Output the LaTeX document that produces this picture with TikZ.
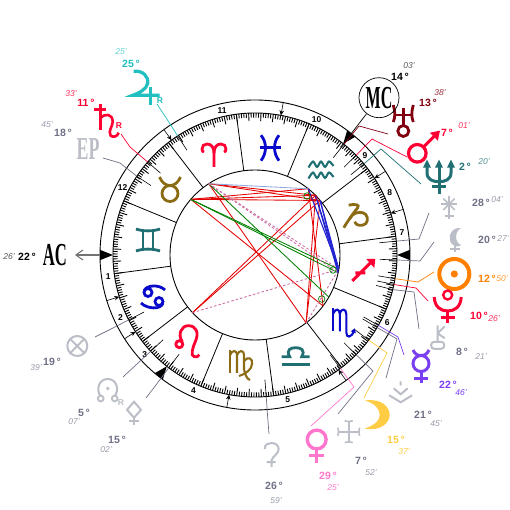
\documentclass[tikz,border=0pt]{standalone}
\usepackage{fontspec}
\setmainfont{Liberation Sans}
\newfontfamily\chartserif{Liberation Serif}
\usetikzlibrary{arrows.meta}
\definecolor{chartred}{HTML}{FF0033}
\definecolor{chartteal}{HTML}{1F6F73}
\definecolor{chartbrown}{HTML}{8B6B14}
\definecolor{chartblue}{HTML}{0A0ACC}
\definecolor{chartcyan}{HTML}{22BFC0}
\definecolor{chartdark}{HTML}{800010}
\definecolor{chartorange}{HTML}{FF8000}
\definecolor{chartviolet}{HTML}{7B3FF2}
\definecolor{chartyellow}{HTML}{FFCC44}
\definecolor{chartpink}{HTML}{FF77CC}
\definecolor{chartgray}{HTML}{BBBEC6}
\definecolor{chartslate}{HTML}{6E7085}
\definecolor{chartmin}{HTML}{9A9CAA}
\tikzset{
  gl/.style={line width=2.8pt},
  glthin/.style={line width=2.1pt},
  ring/.style={draw=black, line width=0.9pt},
  cusp/.style={draw=black, line width=0.8pt},
  dtick/.style={draw=black, line width=0.9pt},
  postick/.style={draw=black, line width=0.6pt},
  housearr/.style={-{Stealth[length=5pt,width=4.5pt]}, draw=black, line width=0.6pt},
  leader/.style={line width=0.7pt},
  asp/.style={line width=0.85pt},
  asptrine/.style={asp, draw=chartblue!90, line width=1.1pt},
  aspsquare/.style={asp, draw=red!90!black},
  aspquin/.style={asp, draw=green!50!black},
  aspsemi/.style={asp, draw=magenta!55!gray!90, dashed, dash pattern=on 2.5pt off 2pt},
  aspfive/.style={asp, draw=cyan!45!blue!45},
  aspmark/.style={circle, draw=green!50!black, line width=0.7pt, minimum size=6.5pt, inner sep=0pt},
  dgr/.style={font=\fontsize{10.5}{11}\selectfont\bfseries, inner sep=0pt},
  mnt/.style={font=\fontsize{8.5}{10}\selectfont\itshape, inner sep=0pt},
  hnum/.style={font=\fontsize{8.5}{10}\selectfont\bfseries, inner sep=0pt},
  rmark/.style={font=\fontsize{8.5}{10}\selectfont\bfseries, inner sep=0pt},
  bigtxt/.style={font=\chartserif\bfseries\fontsize{32}{32}\selectfont, inner sep=0pt},
  % signs
  ariesgl/.pic={\draw[gl] (0,-12) -- (0,2) .. controls (0,8) and (-3,11) .. (-7,11) .. controls (-10,11) and (-12,9) .. (-12,6) .. controls (-12,4) and (-11,3) .. (-10,3);
    \draw[gl] (0,2) .. controls (0,8) and (3,11) .. (7,11) .. controls (10,11) and (12,9) .. (12,6) .. controls (12,4) and (11,3) .. (10,3);},
  taurusgl/.pic={\draw[gl] (0,-3.5) circle (8);
    \draw[gl] (-10.5,13) .. controls (-8,7) and (-4,4.5) .. (0,4.5) .. controls (4,4.5) and (8,7) .. (10.5,13);},
  geminigl/.pic={\draw[gl] (-12,11) .. controls (-5,8.5) and (5,8.5) .. (12,11);
    \draw[gl] (-12,-11) .. controls (-5,-8.5) and (5,-8.5) .. (12,-11);
    \draw[gl] (-5,9) -- (-5,-9) (5,9) -- (5,-9);},
  cancergl/.pic={\draw[gl] (-5,4.5) circle (4) (6,-4.5) circle (4);
    \draw[gl] (-9,6) .. controls (-7,12) and (6,13) .. (12,7);
    \draw[gl] (10,-6) .. controls (8,-13) and (-6,-12) .. (-12,-6);},
  leogl/.pic={\draw[gl] (-8,-2.5) circle (3.5);
    \draw[gl] (-5,0) .. controls (-10,7) and (-6,16) .. (1,16) .. controls (9,16) and (12,9) .. (8,0) .. controls (5,-7) and (3,-14) .. (7,-15) .. controls (9,-16) and (11,-15) .. (12,-13);},
  virgogl/.pic={\draw[glthin] (-10,15) -- (-10,-8);
    \draw[glthin] (-10,10) .. controls (-8,15) and (-3,16) .. (-3,9) -- (-3,-8);
    \draw[glthin] (-3,10) .. controls (-1,15) and (4,16) .. (4,9) -- (4,-4) .. controls (5,-10) and (7,-14) .. (10,-15);
    \draw[glthin] (4,4) .. controls (8,9) and (13,7) .. (12,1) .. controls (12,-4) and (6,-9) .. (-1,-11);},
  libragl/.pic={\draw[gl] (-14,-7.5) -- (14,-7.5);
    \draw[gl] (-14,0) -- (-6,0) .. controls (-10,7) and (-5,9) .. (0,9) .. controls (5,9) and (10,7) .. (6,0) -- (14,0);},
  scorpiogl/.pic={\draw[glthin] (-9,15) -- (-9,-8);
    \draw[glthin] (-9,10) .. controls (-7,15) and (-2.5,15) .. (-2.5,9) -- (-2.5,-8);
    \draw[glthin] (-2.5,10) .. controls (-1,15) and (4,15) .. (4,9) -- (4,-9) .. controls (4,-15) and (9,-15) .. (12,-7);
    \fill (12.5,-5) -- (8.5,-8) -- (13.5,-10) -- cycle;},
  saggl/.pic={\draw[line width=3pt] (-11,-11) -- (9,9) (-8,-3) -- (2,-3);
    \fill (12,11) -- (3,11) -- (11,2) -- cycle;},
  capricorngl/.pic={\draw[gl] (-7,10.5) .. controls (0,12) and (4,11) .. (2,8) .. controls (-2,3) and (-7,-4) .. (-12,-12);
    \draw[gl] (-6,-3) .. controls (-3,3) and (3,4) .. (7,3) .. controls (12,2) and (13,-5) .. (10,-8) .. controls (6,-11) and (0,-10) .. (-1,-6);},
  aquagl/.pic={\foreach \yy in {5.5,-5.5} \draw[glthin] plot[smooth] coordinates {(-12.5,\yy-3) (-8,\yy+3) (-4,\yy-2.5) (0,\yy+3) (4,\yy-2.5) (8,\yy+3) (12.5,\yy-1.5)};},
  piscesgl/.pic={\draw[gl] (-9,12.5) .. controls (-3,5) and (-3,-5) .. (-9,-13);
    \draw[gl] (9,12.5) .. controls (3,5) and (3,-5) .. (9,-13);
    \draw[gl] (-10.5,0) -- (10.5,0);},
  % planets
  jupitergl/.pic={\draw[line width=3.2pt] (-12,16) .. controls (-3,17) and (3,11) .. (2,4) .. controls (1,-2) and (-7,-6) .. (-13,-8) -- (14,-8);
    \draw[line width=3.2pt] (5,0) -- (5,-18);},
  saturngl/.pic={\draw[line width=3pt] (-13,11.5) -- (-1,11.5) (-6.5,16.5) -- (-6.5,-9);
    \draw[line width=2.6pt] (-6.5,2) .. controls (-2,8) and (6,7) .. (6,-1) .. controls (6,-6) and (1,-10) .. (4,-15) .. controls (6,-17) and (11,-16) .. (12,-12);},
  uranusgl/.pic={\draw[line width=2.8pt] (-10,15) .. controls (-8,8) and (-8,3) .. (-10,-2) (10,15) .. controls (8,8) and (8,3) .. (10,-2);
    \draw[line width=2.8pt] (-9,5) -- (9,5) (0,12) -- (0,-5);
    \draw[line width=2.8pt] (0,-11) circle (5.5);},
  marsgl/.pic={\draw[line width=3.2pt] (0,0) circle (8.8);
    \draw[line width=3pt] (6.5,6.5) -- (18,18);
    \fill (22.7,22.7) -- (12.5,20.5) -- (20.5,12.5) -- cycle;},
  neptunegl/.pic={\draw[line width=3pt] (0,12) -- (0,-17) (-7,-10) -- (7,-10);
    \draw[line width=3pt] (-12,12) -- (-12,4) .. controls (-12,-3) and (-6,-5) .. (0,-5) .. controls (6,-5) and (12,-3) .. (12,4) -- (12,12);
    \foreach \xx in {-12,0,12} \fill (\xx,17) -- (\xx-4,9) -- (\xx+4,9) -- cycle;},
  vestagl/.pic={\foreach \aa in {0,45,...,315} \draw[line width=1.6pt] (0,3.5) -- +(\aa:8);
    \draw[line width=1.8pt] (0,-4) -- (0,-11.5) (-4.5,-8) -- (4.5,-8);},
  lilithgl/.pic={\fill (6,12) .. controls (-5,13) and (-8,1) .. (-3,-4) .. controls (0,-7) and (4,-7) .. (6,-5) .. controls (0,-3) and (-1,8) .. (6,12) -- cycle;
    \draw[line width=1.8pt] (0,-5) -- (0,-12) (-5,-9) -- (5,-9);},
  sungl/.pic={\draw[line width=4pt] (0,0) circle (15);
    \fill (0,0) circle (3.6);},
  plutogl/.pic={\draw[line width=2.4pt] (0,10) circle (4.5);
    \draw[line width=3pt] (-13.5,8) .. controls (-13,-2) and (-7,-6) .. (0,-6) .. controls (7,-6) and (13,-2) .. (13.5,8);
    \draw[line width=3pt] (0,-6) -- (0,-18) (-7,-13) -- (7,-13);},
  chirongl/.pic={\draw[line width=2pt, rounded corners=3pt] (-6.5,-11.5) rectangle (6.5,-4.5);
    \draw[line width=2pt] (0,12) -- (0,-4.5) (0,4) -- (7,11) (0,4) -- (7,-1);},
  mercurygl/.pic={\draw[line width=3pt] (0,2.5) circle (8);
    \draw[line width=3pt] (-8,16) .. controls (-6,12) and (-4,10.5) .. (0,10.5) .. controls (4,10.5) and (6,12) .. (8,16);
    \draw[line width=3pt] (0,-5.5) -- (0,-17) (-7,-12.5) -- (7,-12.5);},
  junogl/.pic={\draw[line width=2pt] (-11.5,-3) -- (0,-10) -- (11.5,-3) (-7,4) -- (0,-2) -- (7,4) (0,11) -- (0,7);},
  moongl/.pic={\fill (-12,14.5) .. controls (5,17) and (13,8) .. (13,0) .. controls (13,-8) and (3,-17) .. (-12,-13.5) .. controls (-1,-10) and (3,-5) .. (3,0) .. controls (3,6) and (-2,12) .. (-12,14.5) -- cycle;},
  crossgl/.pic={\draw[line width=1.8pt] (0,-11) -- (0,11) (-11,0) -- (11,0);
    \draw[line width=1.6pt] (-4,11) .. controls (-2,10) and (2,10) .. (4,11) (-4,-11) .. controls (-2,-10) and (2,-10) .. (4,-11) (-11,4) .. controls (-10,2) and (-10,-2) .. (-11,-4) (11,4) .. controls (10,2) and (10,-2) .. (11,-4);},
  venusgl/.pic={\draw[line width=3.4pt] (0,5.5) circle (9.4);
    \draw[line width=3pt] (0,-4) -- (0,-17.5) (-7.5,-10) -- (7.5,-10);},
  ceresgl/.pic={\draw[line width=2pt] (-7,6) .. controls (-7,11) and (-3,12) .. (0,12) .. controls (4,12) and (7,9) .. (7,6) .. controls (7,1) and (1,-1) .. (0,-5) -- (0,-12) (-5,-7) -- (4,-7);},
  lotgl/.pic={\draw[line width=2pt] (0,11.5) -- (-7,3.5) -- (0,-4.5) -- (7,3.5) -- cycle;
    \draw[line width=2pt] (0,-4.5) -- (0,-11.5) (-5,-7.5) -- (5,-7.5);},
  nodegl/.pic={\draw[line width=2pt] (-7,-6) .. controls (-12,0) and (-9,11) .. (0,11) .. controls (9,11) and (12,0) .. (7,-6);
    \draw[line width=1.8pt] (-7,-8.5) circle (2.9) (7,-8.5) circle (2.9);
    \fill (0,1.5) circle (1.9);},
  fortunegl/.pic={\draw[line width=2pt] (0,0) circle (10);
    \draw[line width=2pt] (45:10) -- (225:10) (135:10) -- (315:10);},
}
\begin{document}
\begin{tikzpicture}[x=1pt,y=1pt]
  \useasboundingbox (-255,-255) rectangle (255,255);
  \draw[ring] (0,0) circle (155);
  \draw[ring] (0,0) circle (142);
  \draw[ring] (0,0) circle (85);
  % degree scale
  \foreach \k in {0,...,359} {
    \pgfmathsetmacro\ang{7.57+\k}
    \pgfmathsetmacro\rin{ifthenelse(mod(\k,5)==0,134,137.5)}
    \draw[dtick] (\ang:\rin) -- (\ang:142);
  }
  \foreach \k in {0,...,11} {
    \pgfmathsetmacro\ang{7.57+30*\k}
    \draw[cusp] (\ang:85) -- (\ang:142);
  }
  % house cusps
  \foreach \ang in {17.1,32.7,79.5,126,197.1,212.7,259.5,306}
    \draw[housearr] (\ang:155) -- (\ang:142);
  \foreach \ang/\nm in {0/ds,51.6/mc,180/ac,231.6/ic} {
    \coordinate (\nm tip) at (\ang:142);
    \coordinate (\nm base) at (\ang:155);
    \fill (\nm tip) -- ({\ang+1.9}:155) -- ({\ang-1.9}:155) -- cycle;
  }
  \foreach \ang/\txt in {188.5/1,205/2,222/3,245.5/4,282.7/5,333/6,8.5/7,24.9/8,42.2/9,65.5/10,102.8/11,153/12}
    \node[hnum] (h\txt) at (\ang:148.5) {\txt};
  % leaders
  \foreach \nm/\ang/\col/\gx/\gy/\bx/\by in {
    jup/123/chartcyan/-98/151/-87.5/135,
    sat/139.1/chartred/-134/121/-125/108,
    epo/146.3/chartslate/-152/97/-135/92,
    ura/51.2/chartdark/133/121/104/129,
    mar/44.6/chartred/152/98/117/116,
    nep/39.9/chartteal/166/71/126/106,
    ves/5.6/chartslate/174/42/164/16,
    lil/358/chartslate/179/13/165/-6,
    sun/350.4/chartorange/179/-17/163/-27,
    plu/348/chartred/173/-46/161/-33,
    chi/345.9/chartslate/164/-74/159/-37,
    mer/330.3/chartviolet/149/-100/143/-82,
    jun/329.3/chartslate/131/-123/142/-84,
    moo/323.2/chartyellow/109/-143/132/-98,
    crs/315.4/chartslate/83/-159/118/-116,
    ven/307/chartpink/56/-171/99/-132,
    cer/274.55/chartslate/14/-179/12.5/-160,
    lot/232.6/chartslate/-109/-143/-97.5/-128,
    nod/222.7/chartslate/-132/-122/-118/-109,
    for/207.2/chartslate/-160/-82/-143/-73.5} {
    \coordinate (\nm g) at (\gx,\gy);
    \coordinate (\nm b) at (\bx,\by);
    \coordinate (\nm r) at (\ang:142);
    \coordinate (\nm t) at (\ang:125);
    \coordinate (\nm i) at (\ang:85);
    \draw[leader, color=\col] (\nm g) -- (\nm b) -- (\nm r);
    \draw[postick] (\nm r) -- (\nm t);
  }
  % aspects
  \foreach \a/\b in {jup/mar,jup/nep,jup/ven,sat/ura,sat/mar,sat/nep,sat/moo,nod/mar,nod/nep,ven/mar,ven/nep,moo/ura}
    \draw[aspsquare] (\a i) -- (\b i);
  \foreach \a/\b in {sat/sun,sat/plu,jup/mer}
    \draw[aspquin] (\a i) -- (\b i);
  \foreach \a/\b in {jup/sun,jup/plu,nod/sun,ven/sun}
    \draw[aspsemi] (\a i) -- (\b i);
  \foreach \a/\b in {ura/sun,mar/sun,mar/plu,nep/sun,nep/plu}
    \draw[asptrine] (\a i) -- (\b i);
  \draw[aspfive] (jupi) -- (urai);
  \node[aspmark] (quinA) at (52,59) {};
  \node[aspmark, draw=red!85!black] (quinB) at (59,57) {};
  \node[aspmark] (quinC) at (78,-15) {};
  \node[aspmark] (quinD) at (66.7,-44) {};
  % signs
  \pic[color=chartred] (ari) at (-41,100) {ariesgl};
  \pic[color=chartbrown] (tau) at (-85,65) {taurusgl};
  \pic[color=chartteal] (gem) at (-107,15) {geminigl};
  \pic[color=chartblue] (can) at (-102,-42) {cancergl};
  \pic[color=chartred] (leo) at (-67.7,-86.7) {leogl};
  \pic[color=chartbrown] (vir) at (-15,-110) {virgogl};
  \pic[color=chartteal] (lib) at (40.7,-101.7) {libragl};
  \pic[color=chartblue] (sco) at (87.3,-68.3) {scorpiogl};
  \pic[color=chartred] (sag) at (108.3,-15) {saggl};
  \pic[color=chartbrown] (cap) at (100.7,39.3) {capricorngl};
  \pic[color=chartteal] (aqu) at (66,85) {aquagl};
  \pic[color=chartblue] (pis) at (15,107.3) {piscesgl};
  % planets
  \pic[color=chartcyan] (jupgl) at (-109.3,167.7) {jupitergl};
  \pic[color=chartred] (satgl) at (-148.3,134.3) {saturngl};
  \pic[color=chartdark] (uragl) at (148.3,135) {uranusgl};
  \pic[color=chartred] (margl) at (162.3,101.7) {marsgl};
  \pic[color=chartteal] (nepgl) at (184,78.3) {neptunegl};
  \pic[color=chartgray] (vesgl) at (194,47.3) {vestagl};
  \pic[color=chartgray] (lilgl) at (200,15) {lilithgl};
  \pic[color=chartorange] (sungl) at (199.3,-19) {sungl};
  \pic[color=chartred] (plugl) at (192.7,-50) {plutogl};
  \pic[color=chartgray] (chigl) at (182.7,-82.3) {chirongl};
  \pic[color=chartviolet] (mergl) at (166,-111) {mercurygl};
  \pic[color=chartgray] (jungl) at (145.7,-137.3) {junogl};
  \pic[color=chartyellow] (moogl) at (121.7,-160) {moongl};
  \pic[color=chartgray] (crsgl) at (93.7,-176.7) {crossgl};
  \pic[color=chartpink] (vengl) at (61.7,-190) {venusgl};
  \pic[color=chartgray] (cergl) at (16.7,-200) {ceresgl};
  \pic[color=chartgray] (lotgl) at (-121,-158.3) {lotgl};
  \pic[color=chartgray] (nodgl) at (-147.3,-135) {nodegl};
  \pic[color=chartgray] (forgl) at (-177.7,-91) {fortunegl};
  % angles
  \node[bigtxt] (actxt) at (-200,0) {\scalebox{.52}[1]{AC}};
  \draw[-{Straight Barb[length=7pt,width=10pt]}, draw=black!55, line width=1.1pt] (acbase) -- (-180,0);
  \node[bigtxt, circle, draw=black, line width=.7pt, minimum size=40pt, inner sep=0pt] (mctxt) at (124,157.3) {\scalebox{.5}[1]{MC}};
  \draw[line width=.7pt] (mctxt) -- (mcbase);
  \node[bigtxt, text=chartgray] (eptxt) at (-167,106) {\scalebox{.56}[1]{EP}};
  \node[rmark, text=chartcyan] (rjup) at (-95,154) {R};
  \node[rmark, text=chartred] (rsat) at (-136,129) {R};
  \node[rmark, text=chartgray] (rnod) at (-134,-148) {R};
  % degrees and minutes
  \foreach \nm/\dc/\mc/\dx/\dy/\dv/\mx/\my/\mv in {
    jup/chartcyan/chartcyan!70/-124/191/25/-134/203/25,
    sat/chartred/chartred!80/-169/152/11/-184/161/33,
    epo/chartslate/chartmin/-192/122/18/-208/130/45,
    acd/black/black!65/-228/-2/22/-246/-2/26,
    mcd/black/black!65/145/178/14/154/189/03,
    ura/chartdark/chartdark!80/173/152/13/185/162/38,
    mar/chartred/chartred!80/192/122/7/209/129/01,
    nep/chartteal/chartteal!75/210/88/2/229/93/20,
    ves/chartslate/chartmin/226/52/28/242/55/04,
    lil/chartslate/chartmin/232/15/20/248/16/27,
    sun/chartorange/chartorange!80/232/-24/12/247/-24/50,
    plu/chartred/chartred!80/224/-61/10/239/-64/26,
    chi/chartslate/chartmin/207/-97/8/226/-102/21,
    mer/chartviolet/chartviolet/193/-130/22/206/-138/46,
    jun/chartslate/chartmin/168/-160/21/181/-169/45,
    moo/chartyellow/chartyellow/141/-185/15/149/-197/37,
    crs/chartslate/chartmin/106/-206/7/116/-218/52,
    ven/chartpink/chartpink/73/-221/29/78/-233/25,
    cer/chartslate/chartmin/19/-231/26/21/-246/59,
    lot/chartslate/chartmin/-138/-185/15/-149/-195/02,
    nod/chartslate/chartmin/-171/-158/5/-181/-167/07,
    for/chartslate/chartmin/-203/-107/19/-219/-113/39} {
    \node[dgr, text=\dc] (\nm dg) at (\dx,\dy) {\dv\,°};
    \node[mnt, text=\mc] (\nm mn) at (\mx,\my) {\mv'};
  }
\end{tikzpicture}
\end{document}
